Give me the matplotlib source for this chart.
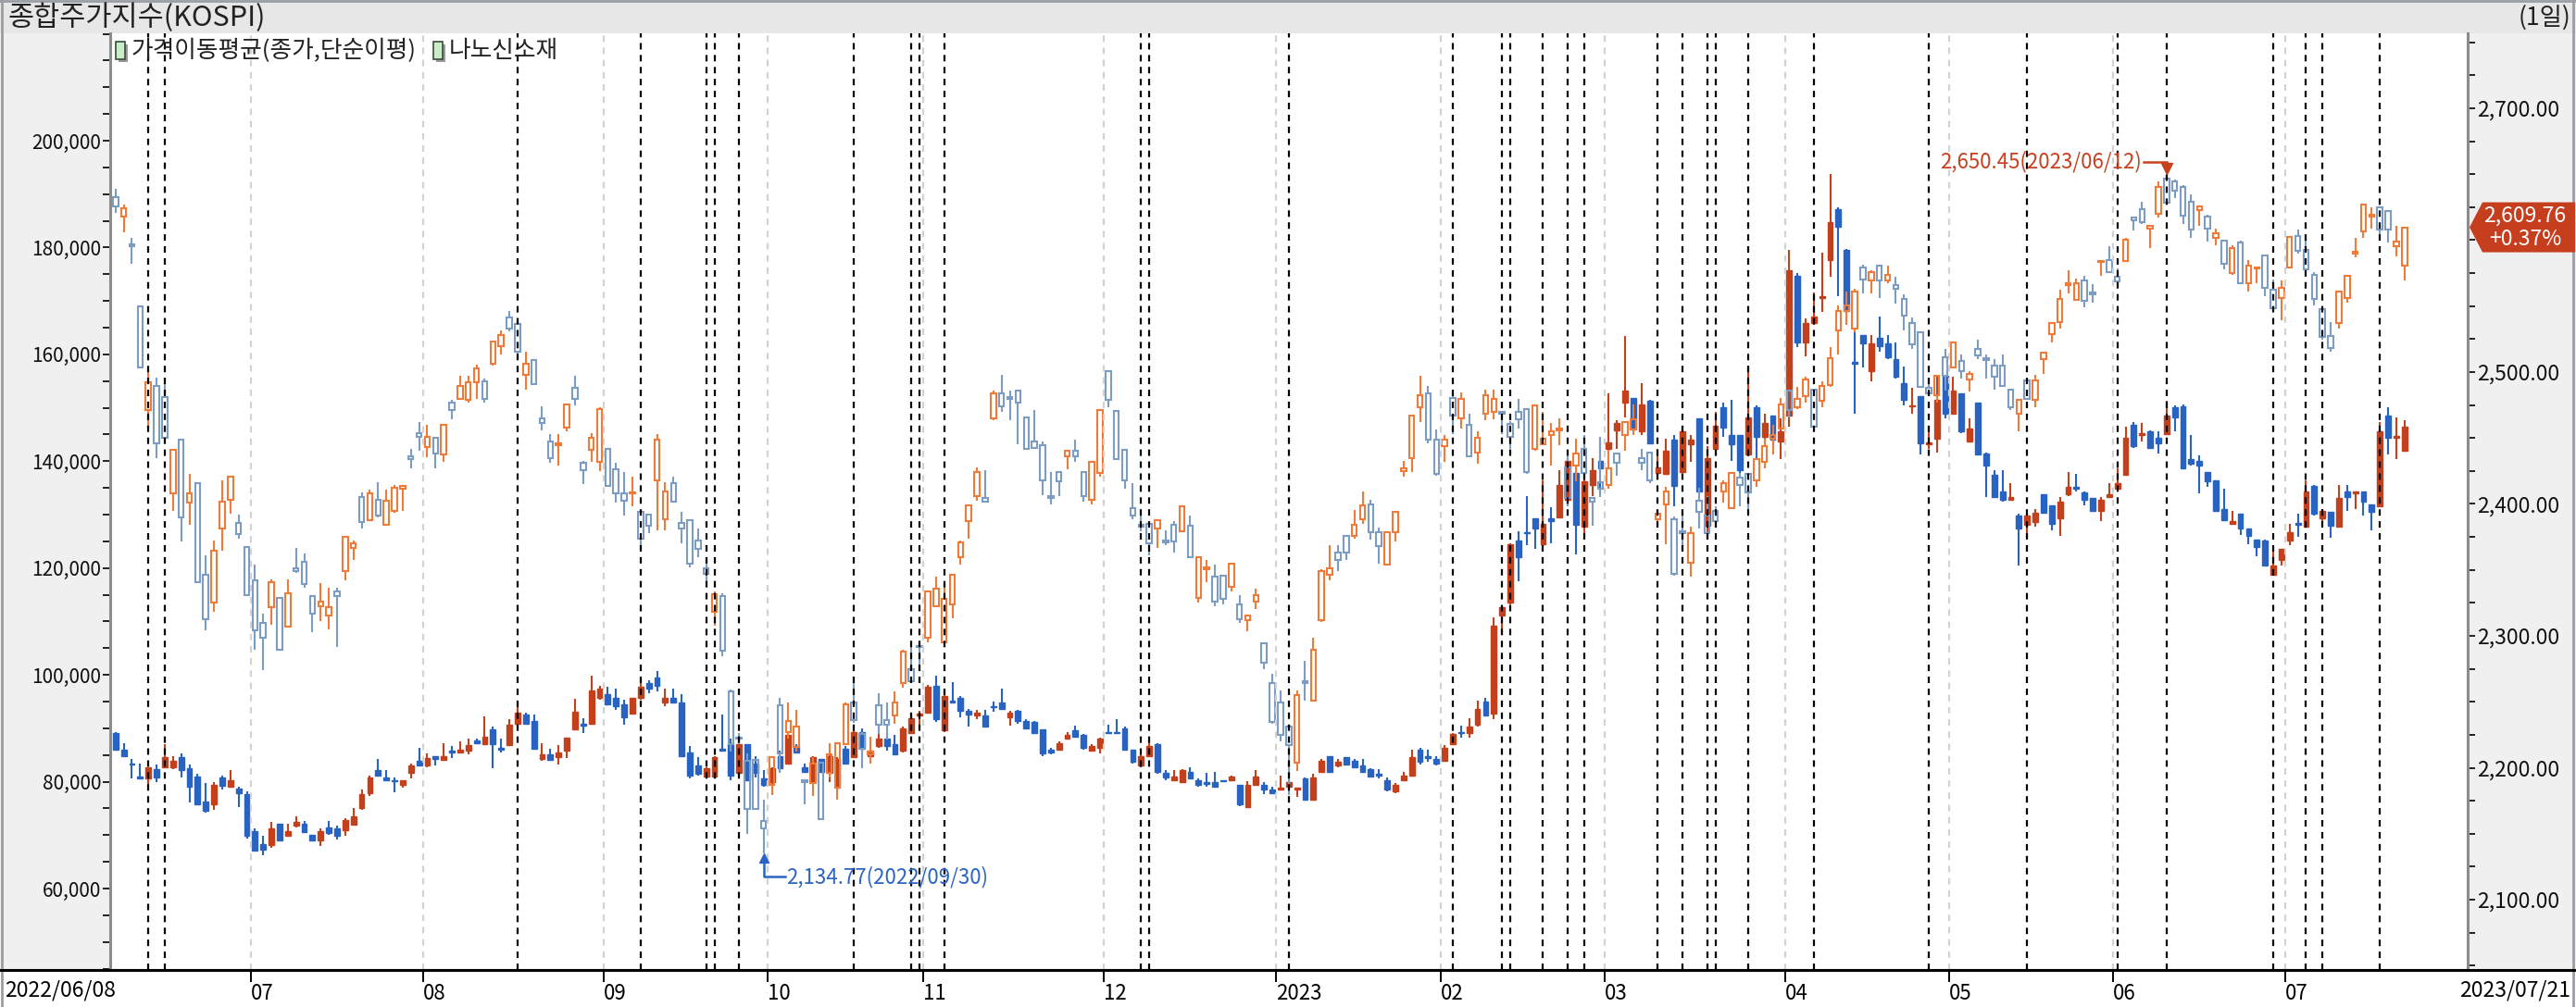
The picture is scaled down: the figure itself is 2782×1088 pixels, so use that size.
import numpy as np
import pandas as pd
import matplotlib
matplotlib.use("Agg")
import matplotlib.pyplot as plt
from matplotlib.patches import Rectangle, Polygon
from matplotlib.lines import Line2D
from matplotlib.ticker import FixedLocator, MultipleLocator, FuncFormatter

plt.rcParams['font.family'] = ['Noto Sans CJK KR', 'DejaVu Sans']
plt.rcParams['lines.scale_dashes'] = False

# trading days (KRX), 2022/06/08 - 2023/07/21
start_date = "2022-06-08"
end_date = "2023-07-21"
holidays = ["2022-08-15", "2022-09-09", "2022-09-12", "2022-10-03", "2022-10-10",
            "2022-12-30", "2023-01-23", "2023-01-24", "2023-03-01", "2023-05-01",
            "2023-05-05", "2023-05-29", "2023-06-06"]

# 종합주가지수(KOSPI) - right axis, hollow candles
kospi_open = [2632.8, 2618, 2596.8, 2549.8, 2471.3, 2489.6, 2481.2, 2408.2, 2448.9, 2400.8,
    2415.5, 2346.5, 2325.6, 2381.4, 2403.4, 2385.8, 2367.4, 2342.1, 2309.8, 2321.6,
    2328.9, 2307.2, 2350.9, 2356.4, 2330, 2322.6, 2315.3, 2333.7, 2349.4, 2366.7,
    2405.2, 2387.6, 2403.4, 2384.3, 2395, 2411.5, 2436.4, 2453.7, 2443, 2450.4,
    2437.5, 2476.8, 2479.4, 2478.6, 2492.6, 2493.3, 2506.1, 2519.7, 2541.7, 2536.6,
    2497.7, 2509, 2465, 2447.4, 2444.9, 2457.7, 2487.8, 2430.9, 2440.8, 2432,
    2442, 2426.5, 2408.2, 2407.8, 2394.2, 2391.6, 2418.1, 2388.7, 2415.5, 2385.8,
    2387.6, 2372.2, 2350.9, 2317.9, 2330, 2258, 2222.5, 2205, 2206, 2160,
    2186.9, 2247.4, 2227.2, 2216, 2190.5, 2188.7, 2204, 2196, 2185, 2218,
    2249.2, 2225.4, 2210, 2247.4, 2236.4, 2240, 2264, 2275, 2292, 2298.8,
    2322.6, 2295, 2323.7, 2359.3, 2386.9, 2406, 2404.5, 2464.7, 2484.1, 2481,
    2486, 2465.8, 2447.4, 2444.9, 2406, 2424.3, 2436.4, 2440.1, 2424.3, 2403.4,
    2423.6, 2500.6, 2470.2, 2440.8, 2397.1, 2384.3, 2385, 2381.4, 2372.2, 2384.3,
    2379.5, 2383.2, 2328.9, 2350.2, 2344.7, 2345.4, 2337.3, 2323.7, 2311.6, 2326.3,
    2294.4, 2264, 2249.2, 2230.9, 2204.1, 2265.8, 2251.1, 2311.6, 2346.5, 2363,
    2375.9, 2375.9, 2388.7, 2399.7, 2378.8, 2353.8, 2378.8, 2425, 2434.6, 2473.1,
    2484.1, 2448.5, 2443.8, 2480.5, 2464.7, 2460.3, 2439, 2468.3, 2469.5, 2469.5,
    2461, 2469.5, 2472, 2441.9, 2445.6, 2452.2, 2455.9, 2428, 2429, 2442,
    2404.5, 2416.2, 2414.4, 2438.3, 2452.2, 2456.6, 2434.6, 2439, 2388.7, 2399.7,
    2388.7, 2379.5, 2355.7, 2402.3, 2391.3, 2395, 2409.6, 2397.1, 2419.9, 2422.8,
    2418.1, 2431.6, 2449.3, 2457.3, 2486, 2473.1, 2481.6, 2486.7, 2477.9, 2490.4,
    2531.8, 2546.5, 2533, 2579.5, 2569.6, 2580.6, 2569.6, 2566, 2555.7, 2537.3,
    2530, 2487.8, 2482.3, 2510.9, 2503.6, 2508.7, 2494.4, 2517.2, 2510.5, 2505,
    2505, 2486.7, 2468.3, 2494, 2478.6, 2509.8, 2528.9, 2538.1, 2566, 2555,
    2569.6, 2560.5, 2583.2, 2585, 2572.2, 2584.3, 2617.3, 2623.6, 2608.9, 2619.9,
    2646.7, 2644.5, 2640.1, 2629.1, 2622.5, 2618, 2601.6, 2599.7, 2574.8, 2597.9,
    2567.4, 2578.4, 2588.7, 2562.3, 2556.4, 2579.5, 2603.4, 2592.4, 2574, 2547.6,
    2527, 2537.3, 2556.4, 2589.5, 2606.3, 2618, 2624.7, 2621.8, 2595.3, 2580.6]
kospi_high = [2639, 2627, 2601.5, 2549.8, 2502.5, 2495.9, 2496, 2440.8, 2448.9, 2422.8,
    2416, 2361, 2372.2, 2418.1, 2421, 2391.6, 2367.4, 2353.8, 2317.1, 2342.8,
    2328.9, 2342.8, 2366.7, 2362.3, 2330, 2339.9, 2336.2, 2336.6, 2374.8, 2372.2,
    2408.9, 2410.7, 2416.2, 2410.7, 2414.4, 2413.7, 2442, 2462.1, 2460.3, 2450.4,
    2460.3, 2478.6, 2497, 2497, 2505.4, 2495, 2523.4, 2531.8, 2546.5, 2536.6,
    2515.3, 2509, 2474.2, 2453, 2453, 2475.7, 2497, 2432.7, 2453.7, 2473.1,
    2442, 2430.9, 2424.3, 2421, 2394.2, 2391.6, 2453, 2416.2, 2421, 2394.2,
    2388.7, 2381.4, 2359.3, 2333.7, 2332.6, 2259, 2226, 2210.7, 2206, 2175.8,
    2208.9, 2253, 2249.3, 2244, 2190.5, 2207.8, 2204, 2218.8, 2218.8, 2249.2,
    2265, 2227.2, 2223.5, 2256.6, 2249.6, 2257.7, 2289.6, 2291.5, 2292, 2333.7,
    2344.7, 2339, 2346.5, 2372.2, 2399.7, 2428, 2425.4, 2486, 2498, 2486,
    2486, 2465.8, 2471.3, 2447.4, 2424.3, 2424.3, 2440.1, 2448.5, 2424.3, 2431.6,
    2471.3, 2500.6, 2470.2, 2440.8, 2415.5, 2392.4, 2386.9, 2388.7, 2380.3, 2386.9,
    2399, 2391.3, 2359.3, 2357.5, 2353.8, 2345.4, 2354.6, 2331, 2315.3, 2335.5,
    2294.4, 2271.3, 2258.4, 2230.9, 2258.4, 2281.2, 2298.8, 2350.2, 2368.5, 2368.5,
    2375.9, 2395.3, 2409.6, 2403.4, 2382.1, 2378.8, 2394.2, 2432.7, 2467.6, 2497,
    2489.6, 2456.6, 2452.2, 2486, 2484.8, 2468.3, 2454.8, 2486.7, 2486.7, 2469.5,
    2462.8, 2479.7, 2472, 2475.7, 2469.5, 2461.4, 2464.7, 2436.4, 2449.3, 2452.2,
    2404.5, 2451.1, 2441.2, 2438.3, 2462.1, 2475.7, 2441.9, 2439, 2392.4, 2413.3,
    2390.5, 2394.2, 2382.5, 2412.6, 2406, 2397.9, 2418.1, 2423.6, 2423.6, 2422.8,
    2433.8, 2449.3, 2460.3, 2480.5, 2486, 2488.5, 2496.2, 2486.7, 2493.3, 2519,
    2550.2, 2561.2, 2563, 2581.3, 2577, 2580.6, 2580.6, 2572.2, 2558.6, 2541.7,
    2530, 2495, 2497.7, 2517.2, 2523.4, 2513.5, 2500.6, 2524.5, 2513.5, 2509.8,
    2513.5, 2486.7, 2478.6, 2494, 2497.7, 2515.3, 2537.3, 2562.3, 2577, 2571.1,
    2573.3, 2566.7, 2585, 2595.3, 2578.4, 2601.6, 2617.3, 2629.1, 2610.7, 2644.5,
    2650.45, 2645.6, 2641.9, 2634.6, 2625.4, 2619.2, 2608.9, 2600.5, 2596.1, 2599.7,
    2585, 2579.5, 2588.7, 2570.4, 2569.6, 2603.4, 2607.8, 2601.6, 2575.9, 2547.6,
    2538.1, 2561.2, 2573.3, 2601.6, 2627.3, 2624.7, 2625.4, 2622.5, 2610.7, 2608.9]
kospi_low = [2621, 2606, 2582, 2503.6, 2458.4, 2434.6, 2450, 2395, 2371.5, 2384.3,
    2341, 2304.3, 2318.2, 2364.8, 2392.4, 2374, 2331.1, 2289.6, 2274.2, 2308.7,
    2289, 2307.2, 2347.6, 2336.6, 2302.5, 2310.9, 2305, 2291.5, 2342.1, 2357.5,
    2381.4, 2387.6, 2389.8, 2384.3, 2393.5, 2395, 2427.2, 2440.1, 2435.7, 2427.2,
    2431.6, 2464, 2478.6, 2476.8, 2479.7, 2477, 2505, 2513.5, 2531.1, 2509.8,
    2486.7, 2490.7, 2455.9, 2430.9, 2429.1, 2454.8, 2475, 2415.1, 2431.6, 2424.7,
    2413.7, 2400.8, 2391.3, 2397.9, 2366.7, 2377.7, 2380.3, 2380.3, 2400.8, 2370.4,
    2352, 2359.3, 2341, 2308, 2284.8, 2212, 2218, 2150, 2168.5, 2134.77,
    2179.5, 2196, 2222, 2212, 2172, 2178.6, 2161, 2192.3, 2176, 2218,
    2234, 2200, 2203.4, 2225.4, 2221.7, 2233, 2260.4, 2264, 2273.1, 2295,
    2322, 2295, 2313.5, 2353.8, 2374, 2402.3, 2401.6, 2463.2, 2469.5, 2463.2,
    2445.6, 2442, 2442, 2407, 2399.7, 2406, 2426.1, 2431.6, 2401.6, 2399.7,
    2420.6, 2473.1, 2433.8, 2411.8, 2388.7, 2379.5, 2361.2, 2366.7, 2368.5, 2363,
    2378.8, 2359.3, 2325.2, 2341, 2322.6, 2323.7, 2333.7, 2309.8, 2303.2, 2320.1,
    2275, 2233.5, 2219.9, 2179.5, 2197.9, 2251.1, 2250, 2310.5, 2342.1, 2349.1,
    2357.5, 2374, 2385, 2372.9, 2354.6, 2353.1, 2371.5, 2420.6, 2424.3, 2462.1,
    2446.3, 2421.7, 2431.6, 2453, 2457.3, 2435.3, 2430.2, 2463.2, 2464, 2453,
    2441.9, 2457.3, 2422.8, 2440.1, 2444.9, 2429.1, 2444.5, 2397.9, 2417, 2420,
    2383.2, 2405.2, 2411.8, 2421.7, 2440.1, 2452.2, 2425.4, 2415.5, 2383.2, 2369.3,
    2345.7, 2365.6, 2344.7, 2381.4, 2376.6, 2383.2, 2400.8, 2396, 2397.9, 2393.5,
    2413.3, 2427.2, 2437.5, 2456.6, 2465.8, 2472, 2476.8, 2458.4, 2473.1, 2488.9,
    2513.5, 2535.5, 2530, 2559.4, 2559.4, 2556.4, 2567.4, 2552.1, 2531.8, 2517.2,
    2487.8, 2482.3, 2476.8, 2486, 2502.5, 2495.1, 2485.2, 2509.8, 2495.1, 2486.7,
    2488.9, 2471.3, 2454.8, 2478.6, 2473.1, 2498.8, 2522.7, 2532.9, 2559.4, 2553.9,
    2549.1, 2552.8, 2573.3, 2574.8, 2567.4, 2583.2, 2607.1, 2612.6, 2594.2, 2617.3,
    2627.3, 2632, 2612.6, 2601.6, 2610.7, 2599, 2596.1, 2577.7, 2574, 2566.7,
    2561.2, 2567.4, 2557.5, 2547.6, 2539.2, 2578.4, 2589.5, 2577, 2550.2, 2524.5,
    2515.3, 2532.9, 2552.8, 2586.9, 2601.6, 2608.9, 2601.6, 2597.9, 2588, 2569.6]
kospi_close = [2625.4, 2624.3, 2595.3, 2503.6, 2492.2, 2446.3, 2450, 2440.8, 2389.8, 2408.2,
    2341, 2312.7, 2364.8, 2401.6, 2421, 2377, 2331.1, 2304.3, 2298.8, 2341,
    2289.6, 2332.6, 2349.4, 2339.2, 2317.1, 2326.3, 2321.6, 2330, 2374.8, 2370.4,
    2386.1, 2408.2, 2391.3, 2402.3, 2412.6, 2413.7, 2433.8, 2451.1, 2451.1, 2438.3,
    2460.3, 2471.3, 2489.6, 2492.6, 2502.5, 2479.4, 2523.4, 2528.2, 2533, 2515.3,
    2506.1, 2490.7, 2461.4, 2434.6, 2446.3, 2475.7, 2479.7, 2425.4, 2450, 2472,
    2413.7, 2408.2, 2402.7, 2408.9, 2374, 2383.2, 2448.5, 2409.6, 2401.6, 2381.4,
    2354.6, 2366, 2347.2, 2331.8, 2288.5, 2218, 2222, 2168.5, 2168.5, 2153.8,
    2207.8, 2210.7, 2235.7, 2230.9, 2189.4, 2203.4, 2161, 2210, 2218.8, 2248,
    2236.4, 2214.4, 2212.5, 2232.7, 2232.7, 2249.2, 2287.8, 2265.8, 2291.5, 2333.7,
    2335.5, 2328, 2346.5, 2371.1, 2398.6, 2424.3, 2401.6, 2484.1, 2473.9, 2479.7,
    2476.8, 2442, 2442.6, 2418.1, 2404.5, 2417, 2440.1, 2436.4, 2406, 2431.6,
    2471.3, 2478.6, 2433.8, 2418.1, 2391.3, 2382.5, 2370.4, 2387.6, 2371, 2371.5,
    2397.9, 2359.3, 2359.3, 2351.6, 2326.3, 2328.1, 2354.6, 2312.7, 2315.3, 2331.1,
    2279.7, 2234.6, 2224.6, 2217.3, 2254.8, 2263.9, 2289.6, 2349.4, 2350.9, 2357.5,
    2363, 2384.3, 2398.6, 2378.8, 2367.8, 2378.8, 2394.2, 2427.2, 2466.9, 2482.3,
    2448.5, 2422.8, 2448.5, 2466.9, 2479.4, 2436.4, 2450, 2482.3, 2479.4, 2468.3,
    2451.1, 2464, 2424.3, 2475, 2449.3, 2454.8, 2457.3, 2404.5, 2438.3, 2423.6,
    2401.6, 2411.8, 2427.2, 2430.9, 2462.1, 2463.9, 2430.9, 2418.1, 2392.4, 2409.6,
    2347.2, 2378.1, 2377.7, 2394.2, 2377.7, 2386.9, 2415.5, 2423.6, 2414.4, 2408.9,
    2433.8, 2443.8, 2452.2, 2475.7, 2471.3, 2479.7, 2494.4, 2458.4, 2489.6, 2510.5,
    2546.5, 2550.2, 2561.2, 2570.4, 2575.9, 2569.6, 2574, 2563, 2542.8, 2520.8,
    2488.5, 2484.1, 2497, 2497, 2522.7, 2500.6, 2498.8, 2512.4, 2509, 2496.2,
    2489.6, 2473.1, 2478.6, 2479.4, 2494, 2514.6, 2537.3, 2555.7, 2567.4, 2567.4,
    2553.9, 2558.6, 2584.3, 2575.9, 2568.5, 2600.5, 2615.1, 2613.7, 2610.7, 2640.1,
    2628.4, 2637.2, 2618.8, 2607.8, 2625.4, 2608.9, 2605.2, 2582.1, 2594.2, 2567.4,
    2580.6, 2579.5, 2563.8, 2548.4, 2563.8, 2602.7, 2591.7, 2577.7, 2555.7, 2526.3,
    2518.3, 2561.2, 2573.3, 2590.9, 2627.3, 2619.5, 2607.8, 2607.8, 2599, 2609.76]
kospi_change = "+0.37%"

# 나노신소재 - left axis, filled candles
nano_open = [89090, 86010, 83470, 80930, 80570, 82290, 82750, 82750, 84560, 82570,
    81030, 76230, 75780, 80750, 79130, 78670, 77590, 70790, 68260, 68070,
    72150, 69890, 71700, 72150, 70070, 68980, 71510, 71240, 70970, 71880,
    75140, 77860, 82110, 80750, 80300, 79400, 81660, 83930, 83020, 84830,
    84110, 85740, 85470, 85740, 87730, 87100, 89820, 86370, 86920, 90910,
    92540, 91440, 84200, 85110, 84560, 85740, 89820, 90910, 90910, 95700,
    96340, 95700, 94530, 92710, 95700, 98420, 99510, 94800, 95700, 94800,
    85550, 83020, 80930, 80930, 86190, 87100, 81660, 87100, 83470, 80570,
    79850, 84830, 83470, 86640, 82750, 79850, 84200, 81660, 78940, 86190,
    84560, 89360, 84830, 86640, 88000, 87100, 85740, 89090, 92350, 92990,
    97970, 89630, 95250, 95700, 93260, 92350, 92350, 94160, 94800, 92080,
    93260, 91440, 91170, 89820, 86010, 86010, 88000, 89630, 88730, 85740,
    86370, 89360, 89360, 90000, 86010, 83020, 84830, 87100, 81660, 80300,
    79850, 81840, 80300, 79850, 79850, 80210, 80300, 79400, 75320, 79400,
    79400, 78490, 78490, 79130, 78490, 80570, 76680, 81840, 84830, 83020,
    84560, 83930, 83020, 82390, 81480, 80300, 78220, 80300, 81210, 86010,
    84830, 84200, 83930, 87100, 89360, 89090, 90720, 95070, 92710, 111100,
    113550, 125150, 126780, 129230, 124420, 129230, 129500, 132850, 137830, 127690,
    135570, 140100, 142360, 145810, 150970, 151880, 145540, 151240, 137830, 137650,
    143990, 138020, 143090, 147980, 127870, 142360, 150070, 144900, 144900, 141280,
    150070, 144630, 148520, 143720, 148520, 174710, 162300, 165920, 170630, 177700,
    187210, 179510, 158670, 163660, 156860, 163020, 162120, 159120, 154600, 150250,
    152150, 143090, 144180, 155950, 148890, 152780, 143720, 150970, 141460, 137380,
    134390, 132850, 129860, 128050, 128590, 133760, 131670, 129230, 133760, 135120,
    134210, 133120, 130770, 133300, 134930, 137380, 146890, 144900, 145540, 144360,
    145080, 150070, 150340, 140370, 140100, 138020, 136470, 131040, 128320, 130130,
    127420, 125330, 125150, 118810, 121520, 125150, 128500, 127690, 135300, 129230,
    130580, 127690, 134390, 134030, 134390, 131950, 131490, 148520, 144360, 141910]
nano_high = [89360, 87280, 84200, 83470, 82750, 83290, 87100, 84830, 85290, 83290,
    81480, 79670, 79850, 81210, 82110, 79130, 78220, 71240, 69890, 72420,
    72150, 72150, 73510, 72600, 70070, 71240, 72600, 71700, 73230, 75140,
    78490, 81210, 84200, 82110, 80750, 80300, 83470, 86370, 85290, 84830,
    87280, 86640, 87550, 88000, 88000, 92260, 90270, 88000, 91630, 94800,
    92990, 92540, 87280, 86190, 86920, 88280, 95530, 91810, 99780, 97970,
    97700, 97340, 95430, 95700, 99330, 99060, 100690, 97510, 97510, 96340,
    86640, 84560, 82750, 84830, 92540, 88000, 88910, 87100, 84830, 82110,
    82750, 85740, 89360, 87100, 83470, 84830, 84200, 85110, 84560, 86640,
    89630, 90000, 86010, 89090, 89090, 88730, 90270, 92990, 93260, 98150,
    99780, 97060, 98690, 95980, 93620, 93440, 93440, 95070, 97510, 93260,
    93440, 91630, 91440, 89820, 86370, 87550, 89360, 90540, 88910, 87100,
    88180, 90720, 91630, 90270, 86010, 85110, 88000, 87280, 82110, 82110,
    82390, 82750, 80570, 81660, 81840, 80210, 81210, 79400, 80030, 82110,
    79850, 79130, 81210, 80300, 78940, 80750, 81480, 84200, 84830, 84200,
    84560, 84200, 84200, 82570, 82290, 80750, 79670, 81840, 86010, 86370,
    86010, 84830, 86920, 89090, 90540, 91810, 95250, 95700, 110830, 112650,
    124690, 126960, 133480, 129230, 136470, 131310, 138290, 141000, 138020, 137380,
    140550, 144360, 152780, 147620, 163380, 151880, 154600, 151420, 142360, 144180,
    144900, 146440, 144900, 147980, 142820, 149160, 150970, 151420, 144900, 157950,
    150520, 148890, 148520, 148000, 179510, 175160, 166650, 171570, 179060, 193820,
    187480, 179690, 164110, 163660, 163660, 167010, 163660, 162300, 157770, 153690,
    152150, 146710, 156130, 155950, 155770, 152780, 147980, 150970, 141640, 138290,
    138290, 135840, 130130, 130130, 131040, 133760, 131670, 133300, 138020, 137650,
    134390, 133120, 133300, 135840, 138740, 146440, 147350, 147080, 145810, 145540,
    151240, 150520, 150700, 144900, 141010, 138020, 136470, 134930, 130770, 130130,
    127420, 125330, 125330, 123520, 123520, 128320, 130130, 136470, 135570, 131040,
    130580, 135570, 135570, 134390, 134390, 131950, 147350, 150070, 148250, 147620]
nano_low = [85740, 84830, 80570, 80570, 79400, 79850, 82750, 82390, 80750, 76040,
    75600, 74230, 74690, 78490, 78940, 75320, 69430, 67000, 66260, 67620,
    68800, 69700, 71510, 70340, 68800, 67890, 70070, 69250, 69890, 71700,
    74690, 77310, 81210, 80120, 78040, 78940, 80570, 82830, 82750, 83020,
    83930, 84380, 85290, 85110, 87100, 87100, 82570, 85470, 86920, 90720,
    90720, 86010, 83930, 83930, 83290, 84380, 89630, 89090, 90910, 95430,
    94350, 93440, 90720, 92540, 95430, 96610, 96880, 94160, 94800, 84830,
    80570, 81210, 80750, 80570, 85740, 80300, 81210, 80300, 80750, 79030,
    78940, 81660, 83290, 85290, 81660, 79670, 81660, 79850, 78760, 83470,
    84380, 86010, 84560, 86370, 85740, 85110, 85470, 88910, 90270, 92710,
    91170, 89360, 94800, 92080, 90270, 91630, 90270, 93080, 93440, 90540,
    90910, 89820, 89090, 84830, 85110, 85740, 87820, 88180, 86010, 85740,
    85290, 88910, 88910, 85740, 83470, 82750, 84830, 81480, 80300, 80120,
    79850, 80570, 79130, 79130, 79130, 80030, 80300, 75500, 75140, 79400,
    77590, 77590, 78490, 78940, 77130, 76410, 76680, 81840, 81840, 82750,
    83290, 82570, 81660, 80930, 80570, 78220, 77860, 80300, 81210, 83290,
    83650, 83020, 83930, 87100, 88180, 88180, 90270, 92350, 91630, 107480,
    113190, 117450, 124240, 123520, 124240, 124690, 129500, 131490, 122610, 125880,
    133480, 133760, 142180, 142360, 148250, 145080, 144900, 143090, 137650, 137650,
    131490, 138020, 139820, 134210, 125330, 142360, 144630, 140100, 136740, 141000,
    140370, 142820, 143090, 140370, 146440, 161400, 159580, 165470, 167910, 174530,
    170900, 168180, 148890, 157590, 154870, 160480, 159120, 155500, 150520, 148890,
    141280, 142360, 141640, 148000, 148890, 145260, 143450, 141280, 133300, 133300,
    132400, 132850, 120440, 125600, 127690, 130130, 127140, 126060, 133480, 134390,
    131670, 130580, 128770, 133300, 134660, 137380, 142540, 143720, 142360, 141460,
    145080, 145540, 138740, 139190, 134030, 135120, 130770, 128950, 128050, 126240,
    124420, 122250, 120440, 118630, 120440, 124240, 125880, 127690, 129860, 127870,
    125600, 127690, 130770, 131040, 129860, 127140, 131490, 141280, 140370, 141910]
nano_close = [86010, 84830, 83290, 80570, 82750, 80750, 84560, 83930, 82110, 79130,
    75780, 74600, 79400, 79220, 80300, 77860, 69890, 67170, 67350, 71240,
    68980, 70790, 72420, 70610, 68980, 70790, 70340, 69890, 72780, 73510,
    77590, 80750, 81210, 80300, 80030, 80300, 83020, 83020, 84380, 84200,
    84830, 85470, 86010, 86920, 87280, 88460, 87100, 86010, 90720, 92990,
    90910, 86190, 85110, 84110, 85470, 88280, 93170, 90540, 97060, 97340,
    94530, 94160, 92080, 95700, 97700, 97510, 97970, 95700, 94800, 84830,
    81210, 81480, 82570, 84560, 85740, 81210, 87100, 80300, 81660, 79400,
    82570, 82570, 88730, 85470, 81840, 84560, 81840, 84830, 84200, 83470,
    89360, 86190, 85740, 88000, 86640, 85110, 90000, 91810, 92810, 97700,
    91630, 95980, 94890, 93260, 92540, 92990, 90270, 93890, 93620, 92990,
    91440, 90000, 89090, 85290, 85470, 87280, 88730, 88460, 86370, 86640,
    88000, 89090, 89090, 86010, 83650, 84830, 86640, 81840, 80750, 80930,
    82110, 80570, 79400, 79580, 79130, 80030, 80930, 75780, 79400, 80930,
    78490, 77860, 78940, 79850, 78940, 76680, 80750, 83930, 81840, 83650,
    83290, 82750, 81840, 80930, 81120, 78490, 79400, 81210, 84560, 83650,
    84380, 83470, 86370, 88910, 89090, 90270, 93620, 92350, 109290, 112650,
    124420, 121980, 126510, 127420, 128320, 128770, 135570, 140100, 128050, 136200,
    138290, 138740, 143450, 147080, 153230, 145990, 150700, 143270, 138920, 141910,
    135300, 145540, 143990, 134390, 140550, 146710, 146260, 143090, 138290, 148250,
    144630, 147080, 143990, 145540, 175700, 162300, 165920, 167010, 170900, 184760,
    183860, 168180, 158220, 162120, 162120, 161570, 159400, 155770, 151420, 150520,
    143270, 143450, 151420, 148890, 153230, 145540, 146170, 141280, 139190, 133300,
    132850, 133300, 127420, 129860, 130400, 130400, 128320, 132400, 135120, 134840,
    132850, 130770, 132850, 133760, 135840, 144360, 142820, 145260, 142540, 143270,
    148520, 148250, 138740, 139470, 139190, 136200, 130770, 128950, 128770, 127420,
    126060, 123970, 120440, 120440, 123520, 126780, 128050, 134390, 130130, 130770,
    127870, 133120, 133300, 134390, 132400, 130580, 145540, 144360, 144720, 146440]

# event markers (black dashed verticals)
event_dates = ["2022-06-14", "2022-06-16", "2022-08-17", "2022-09-07", "2022-09-21",
               "2022-09-22", "2022-09-27", "2022-10-19", "2022-10-28", "2022-10-31",
               "2022-11-03", "2022-12-07", "2022-12-08", "2023-01-03", "2023-02-02",
               "2023-02-10", "2023-02-13", "2023-02-17", "2023-02-22", "2023-02-24",
               "2023-03-10", "2023-03-15", "2023-03-20", "2023-03-21", "2023-03-27",
               "2023-04-06", "2023-04-26", "2023-05-16", "2023-06-01", "2023-06-12",
               "2023-06-29", "2023-07-05", "2023-07-07", "2023-07-18"]

dates = pd.bdate_range(start_date, end_date)
dates = dates[~dates.isin(pd.to_datetime(holidays))]
n = len(dates)
x = np.arange(n)

W, H = 2782, 1088
fig = plt.figure(figsize=(W / 100, H / 100), dpi=100)
fig.patch.set_facecolor('white')


def fx(px):
    return px / W


def fy(py):
    return 1 - py / H


# background panels: title bar, left/right axis panels
fig.add_artist(Rectangle((0, fy(36)), 1, 36 / H, transform=fig.transFigure,
                         facecolor='#e7e7e7', edgecolor='none', zorder=0))
fig.add_artist(Rectangle((0, fy(1048)), fx(119), (1048 - 36) / H, transform=fig.transFigure,
                         facecolor='#f0f0f0', edgecolor='none', zorder=0))
fig.add_artist(Rectangle((fx(2665), fy(1048)), 1 - fx(2665), (1048 - 36) / H,
                         transform=fig.transFigure, facecolor='#f0f0f0', edgecolor='none', zorder=0))
# figure frame
for xs, ys in [([fx(2), fx(2)], [0, 1]), ([fx(2779), fx(2779)], [0, 1]), ([0, 1], [fy(1), fy(1)])]:
    fig.add_artist(Line2D(xs, ys, transform=fig.transFigure, color='#9a9ea3', lw=2.0))

ax = fig.add_axes([fx(119), fy(1048), fx(2665) - fx(119), fy(36) - fy(1048)])
ax.set_facecolor('white')
ax2 = ax.twinx()


def candles(axis, o, h, l, c, up, down, hollow, z):
    o, h, l, c = map(np.asarray, (o, h, l, c))
    h = np.maximum(h, np.maximum(o, c))
    l = np.minimum(l, np.minimum(o, c))
    col = np.where(c >= o, up, down)
    top = np.maximum(o, c)
    bot = np.minimum(o, c)
    if hollow:
        axis.vlines(x, top, h, colors=col, lw=1.5, zorder=z)
        axis.vlines(x, l, bot, colors=col, lw=1.5, zorder=z)
        axis.bar(x, top - bot, 0.62, bot, facecolor='none', edgecolor=col, lw=1.5, zorder=z)
    else:
        axis.vlines(x, l, h, colors=col, lw=1.5, zorder=z)
        axis.bar(x, top - bot, 0.66, bot, color=col, edgecolor=col, lw=1.0, zorder=z)


candles(ax, nano_open, nano_high, nano_low, nano_close, '#c3401d', '#2863c2', False, 3)
candles(ax2, kospi_open, kospi_high, kospi_low, kospi_close, '#f07a38', '#7d9cc4', True, 3)

# month starts and event lines
month_pos = [i - 0.5 for i in range(1, n) if dates[i].month != dates[i - 1].month]
month_lab = [('2023' if dates[int(p + 0.5)].month == 1 else dates[int(p + 0.5)].strftime('%m'))
             for p in month_pos]
for p in month_pos:
    ax2.axvline(p, color='#d2d2d2', lw=1.6, ls=(0, (5, 4.5)), zorder=4)
for d in event_dates:
    ax2.axvline(dates.get_loc(pd.Timestamp(d)), color='black', lw=1.6, ls=(0, (5, 4.3)), zorder=5)

ax.set_xlim(-0.65, 286.7)
ax.set_ylim(44750, 220100)
ax2.set_ylim(2046.7, 2756.8)

last = kospi_close[-1]
ax.yaxis.set_major_locator(FixedLocator(list(range(60000, 200001, 20000))))
ax.yaxis.set_minor_locator(MultipleLocator(5000))
ax.yaxis.set_major_formatter(FuncFormatter(lambda v, p: f"{int(round(v)):,}"))
ax2.yaxis.set_major_locator(FixedLocator(list(range(2100, 2701, 100))))
ax2.yaxis.set_minor_locator(MultipleLocator(25))
# the 2,600.00 label sits under the last-price tag
ax2.yaxis.set_major_formatter(FuncFormatter(lambda v, p: '' if abs(v - last) < 30 else f"{v:,.2f}"))
ax.tick_params(axis='y', which='both', direction='out', length=6, width=1.3,
               labelsize=15, pad=1, colors='#111111')
ax2.tick_params(axis='y', which='both', direction='out', length=6, width=1.3,
                labelsize=16.5, pad=1, colors='#111111')

ax.set_xticks(month_pos)
ax.set_xticklabels(month_lab)
ax.tick_params(axis='x', direction='out', length=9, width=1.4, labelsize=16, pad=1)
for lab in ax.get_xticklabels():
    lab.set_horizontalalignment('left')

for a in (ax, ax2):
    a.spines['top'].set_visible(False)
ax.spines['right'].set_visible(False)
ax2.spines['left'].set_visible(False)
ax2.spines['bottom'].set_visible(False)
ax.spines['left'].set_color('#8c8c8c')
ax.spines['left'].set_linewidth(2.2)
ax2.spines['right'].set_color('#8c8c8c')
ax2.spines['right'].set_linewidth(2.2)
ax.spines['bottom'].set_color('black')
ax.spines['bottom'].set_linewidth(2.2)
fig.add_artist(Line2D([0, 1], [fy(1048), fy(1048)], transform=fig.transFigure, color='black', lw=2.2))

# peak / trough annotations
red_txt = '#c8401e'
blue_txt = '#2a64c4'
pk = int(np.argmax(kospi_high))
ax2.plot([pk - 2.8, pk], [2659.3, 2659.3], color=red_txt, lw=1.8, zorder=6)
ax2.plot([pk], [2654.5], marker='v', ms=8, color=red_txt, zorder=6)
ax2.text(pk - 3.0, 2659.3, f"{kospi_high[pk]:,.2f}({dates[pk]:%Y/%m/%d})", color=red_txt,
         fontsize=16, ha='right', va='center', zorder=6)
tr = int(np.argmin(kospi_low))
ax2.plot([tr, tr, tr + 2.6], [2131, 2117.5, 2117.5], color=blue_txt, lw=1.8, zorder=6)
ax2.plot([tr], [2131.5], marker='^', ms=7, color=blue_txt, zorder=6)
ax2.text(tr + 2.8, 2117.5, f"{kospi_low[tr]:,.2f}({dates[tr]:%Y/%m/%d})", color=blue_txt,
         fontsize=16, ha='left', va='center', zorder=6)

# titles and legend
fig.text(fx(8), fy(19), '종합주가지수(KOSPI)', fontsize=22, ha='left', va='center', color='#222222')
fig.text(fx(2776), fy(19), '(1일)', fontsize=19, ha='right', va='center', color='#222222')
for lx, label in [(125, '가격이동평균(종가,단순이평)'), (468, '나노신소재')]:
    fig.add_artist(Rectangle((fx(lx + 3), fy(67)), 10 / W, 19 / H, transform=fig.transFigure,
                             facecolor='#9a9a9a', edgecolor='none', zorder=7))
    fig.add_artist(Rectangle((fx(lx), fy(64)), 10 / W, 19 / H, transform=fig.transFigure,
                             facecolor='#c8eec8', edgecolor='#3c4a3c', lw=1.2, zorder=8))
    fig.text(fx(lx + 17), fy(55), label, fontsize=18.5, ha='left', va='center',
             color='#222222', zorder=8)

# date range labels
fig.text(fx(5), fy(1070), dates[0].strftime('%Y/%m/%d'), fontsize=16.5, ha='left', va='center')
fig.text(fx(2776), fy(1070), dates[-1].strftime('%Y/%m/%d'), fontsize=16.5, ha='right', va='center')

# last price tag on right axis
fig.canvas.draw()
ty = fig.transFigure.inverted().transform(ax2.transData.transform((0, last)))[1]
tag_h = 54 / H
tag = Polygon([(fx(2667), ty), (fx(2681), ty + tag_h / 2), (fx(2781), ty + tag_h / 2),
               (fx(2781), ty - tag_h / 2), (fx(2681), ty - tag_h / 2)], closed=True,
              transform=fig.transFigure, facecolor='#c53e1e', edgecolor='none', zorder=20)
fig.add_artist(tag)
fig.text(fx(2727), ty + 12.5 / H, f"{last:,.2f}", color='white', fontsize=16.5,
         ha='center', va='center', zorder=21)
fig.text(fx(2727), ty - 12.5 / H, kospi_change, color='white', fontsize=16.5,
         ha='center', va='center', zorder=21)

fig.savefig('out.png', dpi=100, facecolor=fig.get_facecolor())
